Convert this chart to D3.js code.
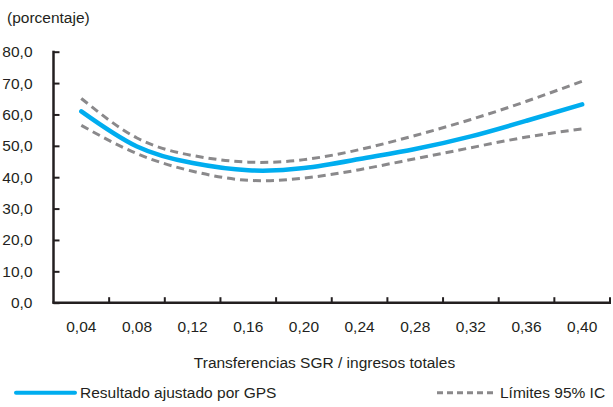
<!DOCTYPE html>
<html>
<head>
<meta charset="utf-8">
<script src="https://cdn.jsdelivr.net/npm/d3@7"></script>
<style>
html, body { margin: 0; padding: 0; background: #fff; }
svg { display: block; }
text { font-family: "Liberation Sans", Arial, Helvetica, sans-serif; fill: #231f20; }
</style>
</head>
<body>
<svg id="chart" width="613" height="407"></svg>
<script>
const xValues = [0.04, 0.08, 0.12, 0.16, 0.20, 0.24, 0.28, 0.32, 0.36, 0.40];
const xTickLabels = ["0,04", "0,08", "0,12", "0,16", "0,20", "0,24", "0,28", "0,32", "0,36", "0,40"];
const fitted = [61.0, 49.8, 44.5, 42.2, 42.9, 45.8, 49.0, 53.0, 58.0, 63.2];
const upper  = [65.1, 52.5, 46.9, 44.8, 45.6, 48.8, 53.3, 58.4, 64.2, 70.6];
const lower  = [56.5, 47.5, 41.9, 39.0, 39.7, 42.4, 45.9, 49.4, 52.8, 55.4];
const yTicks = [0, 10, 20, 30, 40, 50, 60, 70, 80];
const xBoundaries = [0.06, 0.10, 0.14, 0.18, 0.22, 0.26, 0.30, 0.34, 0.38, 0.42];

const svg = d3.select("#chart");
const fs = 15.5;
const blue = "#00adef";
const grey = "#8a898b";
const axisColor = "#231f20";

const x = d3.scaleLinear().domain([0.02, 0.42]).range([53.5, 610]);
const y = d3.scaleLinear().domain([0, 80]).range([302.7, 51.7]);

// y-axis title
svg.append("text").attr("x", 7).attr("y", 23).attr("font-size", fs).text("(porcentaje)");

// y axis
const yAxis = d3.axisLeft(y).tickValues(yTicks).tickSize(-6).tickPadding(21)
  .tickFormat(d => d3.format(".1f")(d).replace(".", ","));
const gy = svg.append("g").attr("transform", "translate(53.5,0)").call(yAxis);
gy.select(".domain").attr("d", `M0,${y(80) - 1}V${y(0)}`).attr("stroke", axisColor).attr("stroke-width", 2.5);
gy.selectAll(".tick line").attr("stroke", axisColor).attr("stroke-width", 2);
gy.selectAll(".tick text").attr("font-size", fs).attr("font-family", "Liberation Sans, Arial, sans-serif").attr("fill", "#231f20");

// x axis: boundary ticks pointing up
const gx = svg.append("g").attr("transform", `translate(0,${y(0)})`);
gx.append("path").attr("d", `M${x(0.02) - 1.2},0H${x(0.42) + 1}`).attr("stroke", axisColor).attr("stroke-width", 2.5).attr("fill", "none");
gx.selectAll("line.tk").data(xBoundaries).join("line").attr("class", "tk")
  .attr("x1", d => x(d)).attr("x2", d => x(d)).attr("y1", 0).attr("y2", -5.5)
  .attr("stroke", axisColor).attr("stroke-width", 2);
gx.selectAll("text.lb").data(xValues).join("text").attr("class", "lb")
  .attr("x", d => x(d)).attr("y", 29).attr("text-anchor", "middle").attr("font-size", fs)
  .text((d, i) => xTickLabels[i]);

// x axis title
svg.append("text").attr("x", 324.5).attr("y", 368).attr("text-anchor", "middle").attr("font-size", fs)
  .text("Transferencias SGR / ingresos totales");

// lines
const line = d3.line().x((d, i) => x(xValues[i])).y(d => y(d)).curve(d3.curveNatural);
svg.append("path").datum(upper).attr("d", line).attr("fill", "none").attr("stroke", grey)
  .attr("stroke-width", 3).attr("stroke-dasharray", "8,5");
svg.append("path").datum(lower).attr("d", line).attr("fill", "none").attr("stroke", grey)
  .attr("stroke-width", 3).attr("stroke-dasharray", "8,5");
svg.append("path").datum(fitted).attr("d", line).attr("fill", "none").attr("stroke", blue)
  .attr("stroke-width", 4.5).attr("stroke-linecap", "round");

// legend
svg.append("line").attr("x1", 16).attr("x2", 75).attr("y1", 392.7).attr("y2", 392.7)
  .attr("stroke", blue).attr("stroke-width", 4).attr("stroke-linecap", "round");
svg.append("text").attr("x", 80).attr("y", 398.3).attr("font-size", fs).text("Resultado ajustado por GPS");
svg.append("line").attr("x1", 437).attr("x2", 496).attr("y1", 392.7).attr("y2", 392.7)
  .attr("stroke", grey).attr("stroke-width", 3).attr("stroke-dasharray", "6,4");
svg.append("text").attr("x", 500).attr("y", 398.3).attr("font-size", fs).text("Límites 95% IC");
</script>
</body>
</html>
